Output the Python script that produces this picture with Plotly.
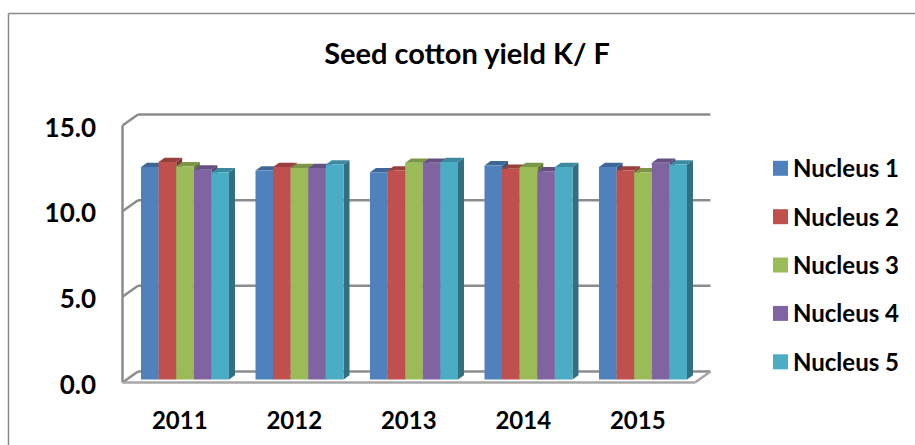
import plotly.graph_objects as go

W, H = 915, 445

years = ["2011", "2012", "2013", "2014", "2015"]
series_names = ["Nucleus 1", "Nucleus 2", "Nucleus 3", "Nucleus 4", "Nucleus 5"]
nucleus_1 = [12.4, 12.2, 12.1, 12.5, 12.4]
nucleus_2 = [12.7, 12.4, 12.2, 12.3, 12.2]
nucleus_3 = [12.45, 12.35, 12.65, 12.4, 12.1]
nucleus_4 = [12.25, 12.35, 12.65, 12.15, 12.65]
nucleus_5 = [12.1, 12.55, 12.7, 12.4, 12.55]
series_values = [nucleus_1, nucleus_2, nucleus_3, nucleus_4, nucleus_5]

front_colors = ["#4F81BD", "#C0504D", "#9BBB59", "#8064A2", "#4BACC6"]
top_colors = ["#3E6796", "#993F3D", "#7C9647", "#664F83", "#3C8AA0"]
side_colors = ["#34567E", "#7F3533", "#677C3B", "#554269", "#326F80"]

FONT = "Lato"
GRID = "#8C8C8C"
FLOOR = "#A6A6A6"

# plot area in pixels, one axis unit in pixels
L, R, T, B = 112, 720, 104, 392
UX, UY = 114.5, 17.13
X0, Y0 = 122.5, 382.5  # front corner of the chart box

# wall depth and bar depth in axis units
WALL_DX, WALL_DY = 15.5 / UX, 11 / UY
BAR_DX, BAR_DY = 6 / UX, 4.3 / UY
BAR_W = 17.6 / UX
GROUP_START = 18.5 / UX
LIFT = 3 / UY

positions = [i + 0.5 for i in range(len(years))]


def paper_x(px):
    return (px - L) / (R - L)


def paper_y(py):
    return (B - py) / (B - T)


def line(x0, y0, x1, y1, color=GRID, width=2.5):
    return dict(type="line", x0=x0, y0=y0, x1=x1, y1=y1, xref="x", yref="y",
                layer="below", line=dict(color=color, width=width))


def face(points, color):
    path = "M" + " L".join(f"{x},{y}" for x, y in points) + " Z"
    return dict(type="path", path=path, xref="x", yref="y", layer="below",
                fillcolor=color, line=dict(width=0))


shapes = []

# back wall lines, side wall diagonals and the front axis
n = len(years)
for v in [5, 10, 15]:
    shapes.append(line(WALL_DX, v + WALL_DY, n + WALL_DX, v + WALL_DY))
    shapes.append(line(0, v, WALL_DX, v + WALL_DY))
shapes.append(line(0, 0, 0, 15))
shapes.append(line(WALL_DX, WALL_DY, n + WALL_DX, WALL_DY))
shapes.append(line(0, 0, WALL_DX, WALL_DY))
shapes.append(line(n, 0, n + WALL_DX, WALL_DY, FLOOR))
shapes.append(line(0, 0, n, 0, FLOOR))

# top and side faces of the bars, left to right so neighbours overlap properly
for g in range(n):
    for s, values in enumerate(series_values):
        x0 = g + GROUP_START + s * BAR_W
        x1 = x0 + BAR_W
        top = LIFT + values[g]
        shapes.append(face([(x1, LIFT), (x1, top), (x1 + BAR_DX, top + BAR_DY),
                            (x1 + BAR_DX, LIFT + BAR_DY)], side_colors[s]))
        shapes.append(face([(x0, top), (x1, top), (x1 + BAR_DX, top + BAR_DY),
                            (x0 + BAR_DX, top + BAR_DY)], top_colors[s]))

# outer chart frame, only top and left show in the picture
frame = dict(color="#8A8A8A", width=1.5)
shapes.append(dict(type="line", xref="paper", yref="paper", line=frame,
                   x0=paper_x(8.5), x1=paper_x(W), y0=paper_y(13.5), y1=paper_y(13.5)))
shapes.append(dict(type="line", xref="paper", yref="paper", line=frame,
                   x0=paper_x(8.5), x1=paper_x(8.5), y0=paper_y(13.5), y1=paper_y(H)))

fig = go.Figure()
for s, values in enumerate(series_values):
    fig.add_trace(go.Bar(
        x=positions,
        y=values,
        base=LIFT,
        name=series_names[s],
        width=BAR_W,
        offset=GROUP_START - 0.5 + s * BAR_W,
        marker=dict(color=front_colors[s], line=dict(width=0)),
        showlegend=False,
    ))

# legend laid out by hand, the swatch sits closer to the text than plotly's own allows
annotations = []
legend_y = [168.3, 216.7, 265, 313.4, 361.8]
for s, name in enumerate(series_names):
    shapes.append(dict(type="rect", xref="paper", yref="paper",
                       x0=paper_x(773), x1=paper_x(788),
                       y0=paper_y(legend_y[s] + 7.5), y1=paper_y(legend_y[s] - 7.5),
                       fillcolor=front_colors[s], line=dict(width=0)))
    annotations.append(dict(text=name, xref="paper", yref="paper",
                            x=paper_x(791), y=paper_y(legend_y[s] - 0.5),
                            xanchor="left", yanchor="middle", showarrow=False,
                            font=dict(family=FONT, size=24, color="black", weight="bold")))

fig.update_layout(
    width=W,
    height=H,
    margin=dict(l=L, r=W - R, t=T, b=H - B, autoexpand=False),
    paper_bgcolor="white",
    plot_bgcolor="rgba(0,0,0,0)",
    barmode="overlay",
    showlegend=False,
    shapes=shapes,
    annotations=annotations,
    title=dict(
        text="<b>Seed cotton yield K/ F</b>",
        x=467 / W,
        xanchor="center",
        y=1 - 54 / H,
        yanchor="middle",
        font=dict(family=FONT, size=29, color="black"),
    ),
    xaxis=dict(
        range=[(L - X0) / UX, (R - X0) / UX],
        tickmode="array",
        tickvals=positions,
        ticktext=years,
        showgrid=False,
        zeroline=False,
        showline=False,
        ticks="",
        ticklabelstandoff=12,
        tickfont=dict(family=FONT, size=24, color="black", weight="bold"),
    ),
    yaxis=dict(
        range=[(Y0 - B) / UY, (Y0 - T) / UY],
        tickmode="array",
        tickvals=[0, 5, 10, 15],
        tickformat=".1f",
        showgrid=False,
        zeroline=False,
        showline=False,
        ticks="",
        ticklabelstandoff=15,
        ticklabelshift=2,
        tickfont=dict(family=FONT, size=26, color="black", weight="bold"),
    ),
)

# the page's default body margin would push the figure 8px in
fig.write_html("out.html", config=dict(displayModeBar=False),
               post_script="document.body.style.margin = '0';")
